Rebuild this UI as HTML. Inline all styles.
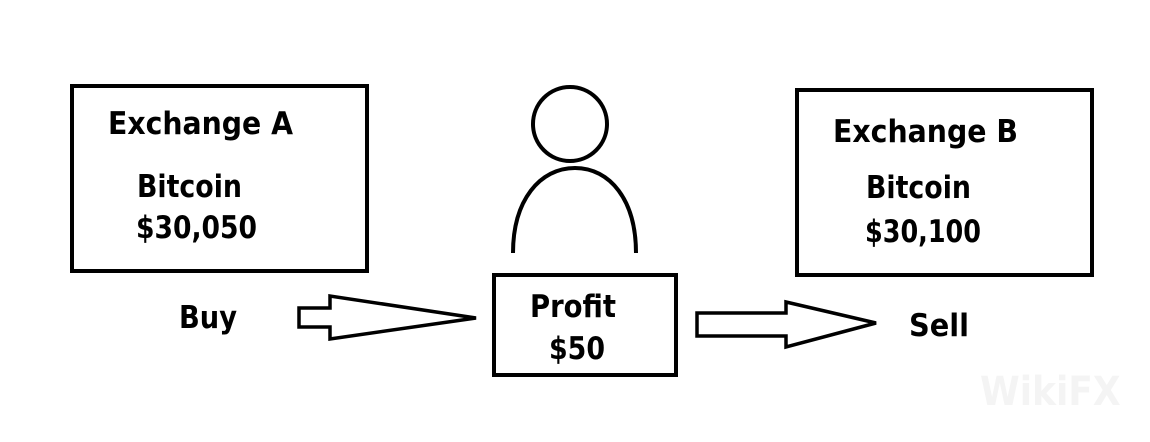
<!DOCTYPE html>
<html><head><style>body{margin:0;background:#fff}svg{display:block}text{font-family:"DejaVu Sans Condensed","Liberation Sans",sans-serif;font-weight:bold;font-size:31px;fill:#000}</style></head>
<body>
<svg width="1150" height="442" viewBox="0 0 1150 442">
<g fill="none" stroke="#000" stroke-width="4">
<rect x="72" y="86" width="295" height="185"/>
<rect x="797" y="90" width="295" height="185"/>
<rect x="494" y="275" width="182" height="100"/>
<circle cx="570" cy="124" r="37"/>
<path d="M513 253 C513 200 540 168 575 168 C610 168 636 200 636 253"/>
<path d="M299 308 H330 V296 L476 318 L330 339 V327 H299 Z" stroke-width="3.5" stroke-linejoin="miter"/>
<path d="M697 313 H786 V302 L876 323 L786 347 V336 H697 Z" stroke-width="3.5"/>
</g>
<text x="108" y="134" textLength="185" lengthAdjust="spacingAndGlyphs">Exchange A</text>
<text x="137" y="197" textLength="105" lengthAdjust="spacingAndGlyphs">Bitcoin</text>
<text x="136" y="238" textLength="121" lengthAdjust="spacingAndGlyphs">$30,050</text>
<text x="179" y="328" textLength="58" lengthAdjust="spacingAndGlyphs">Buy</text>
<text x="530" y="317" textLength="86" lengthAdjust="spacingAndGlyphs">Profit</text>
<text x="549" y="359" textLength="56" lengthAdjust="spacingAndGlyphs">$50</text>
<text x="833" y="142" textLength="185" lengthAdjust="spacingAndGlyphs">Exchange B</text>
<text x="866" y="198" textLength="105" lengthAdjust="spacingAndGlyphs">Bitcoin</text>
<text x="865" y="242" textLength="116" lengthAdjust="spacingAndGlyphs">$30,100</text>
<text x="909" y="336" textLength="60" lengthAdjust="spacingAndGlyphs">Sell</text>
<text x="980" y="405" style="fill:#f4f4f4;font-size:40px">WikiFX</text>
</svg>
</body></html>
